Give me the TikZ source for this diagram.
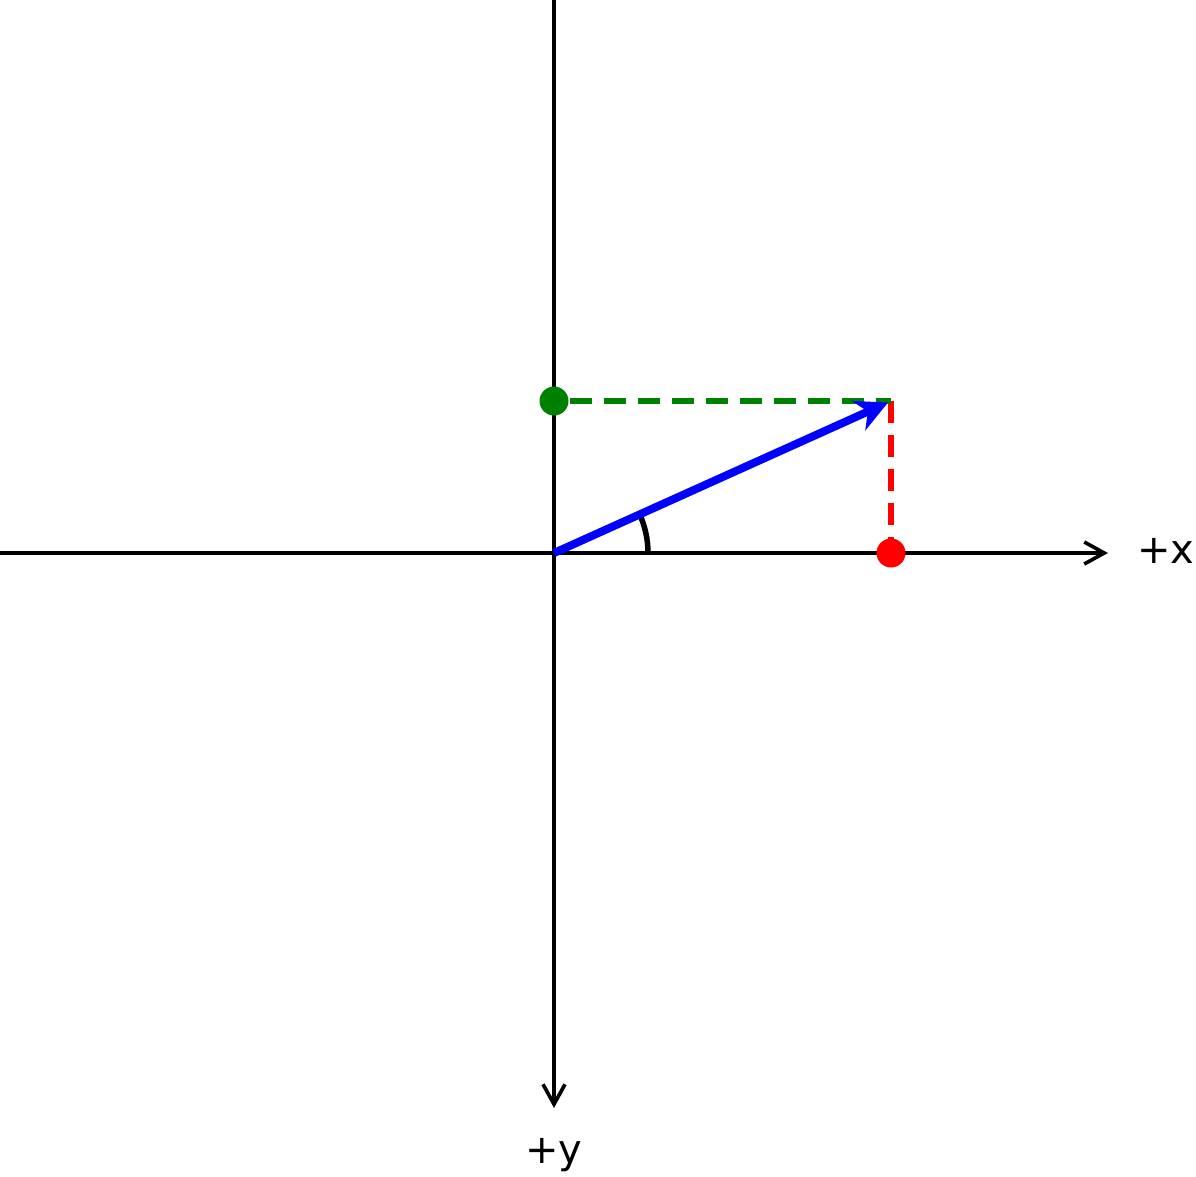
\documentclass[tikz,border=0pt]{standalone}
\usepackage{fontspec}
\setmainfont{DejaVu Sans}
\usetikzlibrary{arrows.meta}
\begin{document}
\begin{tikzpicture}[x=1pt,y=-1pt,
  axis/.style={line width=3.6pt,-{Straight Barb[length=20pt,width=22pt,line width=3.6pt]}},
  dashline/.style={line width=5.5pt,dash pattern=on 22pt off 12pt},
  dot/.style={circle,inner sep=0pt,minimum size=29pt},
  lbl/.style={font=\fontsize{40}{46}\selectfont,inner sep=0pt}]
\useasboundingbox (0,0) rectangle (1196,1176);
\coordinate (O) at (554,553);
\coordinate (L) at (0,553);
\coordinate (T) at (554,0);
\coordinate (XE) at (1108,553);
\coordinate (YE) at (554,1108);
\coordinate (P) at (891,401);
\coordinate (PA) at (888,402.5);
\draw[axis] (L) -- (XE);
\draw[axis] (T) -- (YE);
\node[lbl] (xl) at (1166,551) {+x};
\node[lbl] (yl) at (554,1155) {+y};
\draw[dashline,red] (P) -- (891,553);
\draw[dashline,green!50!black] (570,401) -- (P);
\node[dot,fill=red] (rd) at (891,553) {};
\node[dot,fill=green!50!black] (gd) at (554,401) {};
\draw[line width=5.5pt] (648,553) arc[start angle=0,end angle=-24.3,radius=94];
\draw[blue,line width=8pt,-{Stealth[length=32pt,width=32pt,inset=10pt]}] (O) -- (PA);
\end{tikzpicture}
\end{document}
